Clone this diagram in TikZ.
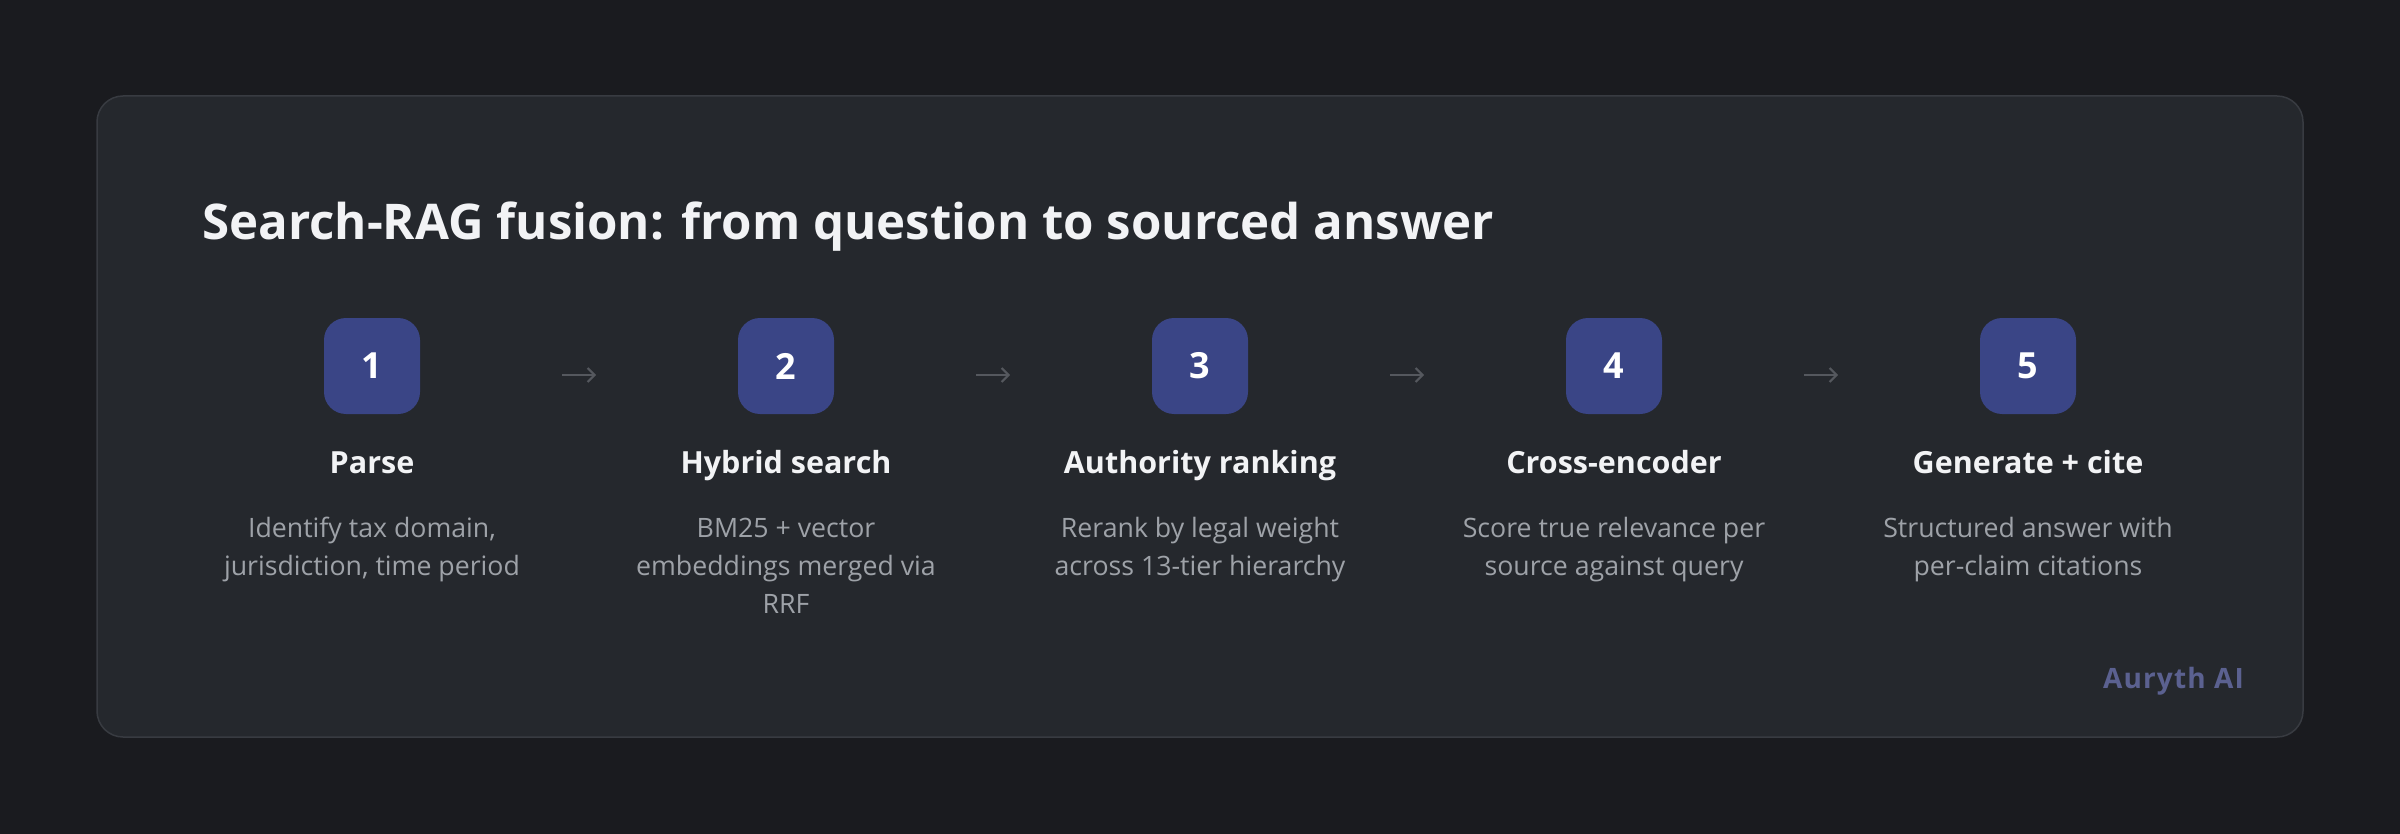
\documentclass[tikz,border=0pt]{standalone}
\usepackage{fontspec}
\setmainfont{Open Sans}
\usetikzlibrary{arrows.meta,calc}
\definecolor{bgout}{HTML}{1A1B1F}
\definecolor{card}{HTML}{25282D}
\definecolor{cardline}{HTML}{383B41}
\definecolor{boxfill}{HTML}{3A4586}
\definecolor{titlecol}{HTML}{F2F3F5}
\definecolor{desccol}{HTML}{9EA2A8}
\definecolor{arrowcol}{HTML}{55585E}
\definecolor{brandcol}{HTML}{5B6190}
\begin{document}
\begin{tikzpicture}[x=1pt,y=-1pt,
  numbox/.style={fill=boxfill, rounded corners=22pt, minimum width=96pt, minimum height=96pt, inner sep=0pt, text=white, font=\bfseries\fontsize{36}{40}\selectfont},
  steptitle/.style={anchor=base, inner sep=0pt, text=titlecol, font=\bfseries\fontsize{30.5}{36}\selectfont},
  stepdesc/.style={anchor=base, inner sep=0pt, align=center, text=desccol, font=\fontsize{26.7}{38}\selectfont},
  flow/.style={draw=arrowcol, line width=2pt, -{Straight Barb[length=7pt,width=14pt]}},
  headline/.style={anchor=base west, inner sep=0pt, text=titlecol, font=\bfseries\fontsize{49.2}{56}\selectfont},
  brand/.style={anchor=base east, inner sep=0pt, text=brandcol, font=\bfseries\fontsize{28}{32}\selectfont\addfontfeatures{LetterSpace=4}}
]
\fill[bgout] (0,0) rectangle (2400,834);
\useasboundingbox (0,0) rectangle (2400,834);
\draw[cardline, fill=card, line width=1.5pt, rounded corners=26pt] (97,96) rectangle (2303,737);

\node[headline] (title) at (202,240) {Search-RAG fusion: from question to sourced answer};

\foreach \i/\x in {1/372,2/786,3/1200,4/1614,5/2028}{
  \node[numbox] (b\i) at (\x,366) {\i};
}

\node[steptitle] (t1) at (372,473) {Parse};
\node[steptitle] (t2) at (786,473) {Hybrid search};
\node[steptitle] (t3) at (1200,473) {Authority ranking};
\node[steptitle] (t4) at (1614,473) {Cross-encoder};
\node[steptitle] (t5) at (2028,473) {Generate + cite};

% base anchor of a multi-line node is the baseline of its last line
\node[stepdesc] (d1) at (372,575) {Identify tax domain,\\jurisdiction, time period};
\node[stepdesc] (d2) at (786,613) {BM25 + vector\\embeddings merged via\\RRF};
\node[stepdesc] (d3) at (1200,575) {Rerank by legal weight\\across 13-tier hierarchy};
\node[stepdesc] (d4) at (1614,575) {Score true relevance per\\source against query};
\node[stepdesc] (d5) at (2028,575) {Structured answer with\\per-claim citations};

\foreach \a/\b in {1/2,2/3,3/4,4/5}{
  \path (b\a) -- (b\b) coordinate[pos=0.5] (m\a);
  \draw[flow] ([shift={(-17,9)}]m\a) -- ([shift={(17,9)}]m\a);
}

\node[brand] (logo) at (2244,688) {Auryth AI};
\end{tikzpicture}
\end{document}
